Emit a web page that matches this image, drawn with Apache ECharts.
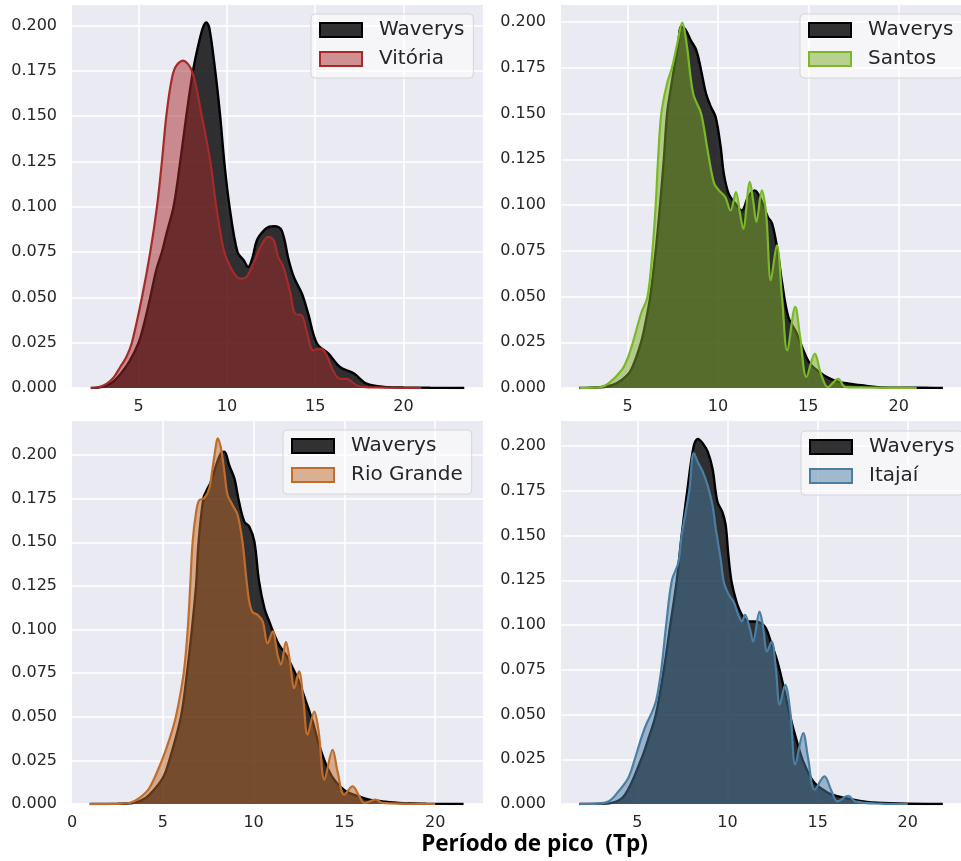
<!DOCTYPE html>
<html>
<head>
<meta charset="utf-8">
<script src="https://cdn.jsdelivr.net/npm/echarts@6/dist/echarts.min.js"></script>
<style>
html,body{margin:0;padding:0;background:#fff;}
#chart{width:961px;height:861px;}
</style>
</head>
<body>
<div id="chart"></div>
<script>
// ---------------- DATA ----------------
const seriesNames = ['Vitória', 'Santos', 'Rio Grande', 'Itajaí'];
const refName = 'Waverys';
const xLabelText = 'Período de pico  (Tp)';

// Panel 1: Waverys vs Vitória
const wav1X = [2.29, 3.0, 3.5, 4.0, 4.5, 5.0, 5.3, 5.66, 6.0, 6.32, 6.6, 6.98, 7.36, 7.7, 8.08, 8.4, 8.65, 8.83, 9.0, 9.34, 9.62, 9.85, 10.15, 10.6, 10.95, 11.2, 11.45, 11.7, 12.1, 12.4, 12.7, 13.1, 13.5, 13.8, 14.25, 14.6, 15.1, 15.75, 16.4, 17.2, 17.9, 18.9, 20.0, 21.5, 23.44];
const wav1Y = [0, 0.0008, 0.003, 0.008, 0.015, 0.025, 0.035, 0.05, 0.065, 0.075, 0.086, 0.1, 0.125, 0.15, 0.175, 0.19, 0.199, 0.2017, 0.199, 0.175, 0.15, 0.125, 0.1, 0.075, 0.0705, 0.0668, 0.072, 0.0816, 0.087, 0.089, 0.0893, 0.087, 0.0705, 0.061, 0.052, 0.041, 0.0245, 0.019, 0.0116, 0.008, 0.0024, 0.0006, 0.0003, 0.0001, 0];
const vitX = [2.3, 2.8, 3.2, 3.6, 3.96, 4.3, 4.62, 5.19, 5.66, 6.04, 6.32, 6.57, 6.83, 7.08, 7.5, 8.02, 8.58, 9.06, 9.4, 9.85, 10.2, 10.5, 10.75, 11.1, 11.5, 11.9, 12.35, 12.65, 12.9, 13.2, 13.6, 13.85, 14.25, 14.5, 14.9, 15.3, 15.6, 16.0, 16.4, 16.8, 17.2, 17.55, 18.5, 20.0, 21.0];
const vitY = [0, 0.0006, 0.0024, 0.006, 0.0116, 0.017, 0.025, 0.05, 0.075, 0.1, 0.125, 0.15, 0.168, 0.177, 0.1807, 0.175, 0.15, 0.125, 0.1, 0.075, 0.0668, 0.062, 0.0604, 0.0613, 0.0687, 0.078, 0.0834, 0.0816, 0.0724, 0.0668, 0.052, 0.041, 0.040, 0.032, 0.0208, 0.0217, 0.019, 0.0098, 0.005, 0.005, 0.0024, 0.0008, 0.0003, 0.0001, 0];

// Panel 2: Waverys vs Santos
const wav2X = [2.33, 3.5, 4.14, 4.7, 5.2, 5.75, 6.0, 6.26, 6.56, 6.8, 7.01, 7.19, 7.4, 7.58, 7.8, 7.97, 8.2, 8.5, 8.8, 9.07, 9.34, 9.61, 9.88, 10.15, 10.33, 10.6, 10.96, 11.32, 11.68, 12.04, 12.4, 12.76, 13.0, 13.3, 13.56, 13.9, 14.37, 14.73, 15.1, 15.6, 16.2, 16.7, 17.25, 17.96, 18.86, 20.0, 21.5, 22.45];
const wav2Y = [0, 0.0004, 0.0015, 0.0045, 0.01, 0.025, 0.036, 0.05, 0.075, 0.1, 0.125, 0.15, 0.164, 0.175, 0.188, 0.1975, 0.196, 0.19, 0.1847, 0.1737, 0.161, 0.1537, 0.148, 0.132, 0.117, 0.106, 0.1008, 0.097, 0.1045, 0.108, 0.1026, 0.0935, 0.0899, 0.0753, 0.057, 0.0388, 0.0297, 0.0206, 0.0133, 0.0088, 0.0051, 0.0033, 0.0024, 0.0015, 0.0005, 0.0002, 0.0001, 0];
const sanX = [2.35, 3.42, 4.0, 4.67, 5.0, 5.3, 5.75, 6.11, 6.38, 6.56, 6.69, 6.87, 7.19, 7.46, 7.75, 8.03, 8.27, 8.63, 9.07, 9.43, 9.79, 10.06, 10.4, 10.7, 11.0, 11.23, 11.4, 11.77, 11.95, 12.13, 12.43, 12.67, 12.93, 13.26, 13.56, 13.83, 14.28, 14.55, 14.9, 15.36, 15.7, 16.08, 16.65, 17.06, 18.0, 19.5, 21.0];
const sanY = [0, 0.0003, 0.003, 0.0097, 0.016, 0.025, 0.0407, 0.05, 0.075, 0.1, 0.125, 0.15, 0.1665, 0.175, 0.188, 0.1997, 0.188, 0.161, 0.150, 0.130, 0.1118, 0.108, 0.1045, 0.097, 0.107, 0.095, 0.087, 0.1127, 0.1026, 0.0908, 0.108, 0.095, 0.0589, 0.078, 0.048, 0.0206, 0.0443, 0.0279, 0.006, 0.0188, 0.0078, 0.0005, 0.005, 0.0005, 0.0003, 0.0001, 0];

// Panel 3: Waverys vs Rio Grande
const wav3X = [0.975, 2.5, 3.34, 3.8, 4.26, 5.0, 5.36, 6.0, 6.33, 6.6, 6.83, 6.97, 7.23, 7.38, 7.65, 7.93, 8.2, 8.39, 8.66, 8.94, 9.2, 9.49, 9.76, 10.04, 10.3, 10.6, 10.86, 11.14, 11.4, 11.78, 12.15, 12.5, 12.88, 13.25, 13.6, 14.07, 14.5, 15.08, 15.8, 16.37, 17.1, 18.0, 19.5, 21.56];
const wav3Y = [0, 0.0001, 0.0006, 0.002, 0.0053, 0.0149, 0.025, 0.05, 0.075, 0.1, 0.125, 0.15, 0.175, 0.179, 0.1847, 0.194, 0.201, 0.2019, 0.194, 0.1866, 0.173, 0.1618, 0.159, 0.1504, 0.1275, 0.112, 0.1046, 0.097, 0.0912, 0.0855, 0.078, 0.070, 0.0588, 0.0473, 0.034, 0.0206, 0.013, 0.0073, 0.0044, 0.0025, 0.0015, 0.0006, 0.0002, 0];
const rioX = [0.975, 2.5, 3.16, 3.7, 4.26, 4.95, 5.36, 5.72, 6.15, 6.37, 6.51, 6.64, 6.83, 7.0, 7.28, 7.56, 7.74, 7.93, 8.02, 8.2, 8.39, 8.57, 8.84, 9.12, 9.39, 9.58, 9.76, 9.94, 10.22, 10.5, 10.77, 11.05, 11.32, 11.5, 11.78, 12.0, 12.24, 12.5, 12.73, 12.97, 13.34, 13.58, 13.9, 14.35, 14.62, 14.99, 15.45, 15.82, 16.1, 16.7, 17.1, 18.5, 20.0];
const rioY = [0, 0.0001, 0.0006, 0.0034, 0.0092, 0.025, 0.037, 0.05, 0.075, 0.1, 0.125, 0.15, 0.167, 0.174, 0.1752, 0.181, 0.1924, 0.2057, 0.2095, 0.204, 0.1905, 0.177, 0.1714, 0.1656, 0.150, 0.131, 0.116, 0.110, 0.1084, 0.1046, 0.092, 0.0989, 0.0855, 0.0798, 0.093, 0.0817, 0.0664, 0.076, 0.0607, 0.0397, 0.053, 0.0416, 0.0139, 0.031, 0.0187, 0.0053, 0.0101, 0.0044, 0.0006, 0.0025, 0.0006, 0.0002, 0];

// Panel 4: Waverys vs Itajaí
const wav4X = [1.78, 3.0, 3.6, 4.32, 5.22, 5.6, 6.03, 6.47, 6.83, 7.19, 7.46, 7.77, 8.13, 8.36, 8.63, 8.9, 9.17, 9.44, 9.71, 9.9, 10.05, 10.23, 10.5, 10.8, 11.15, 11.5, 11.87, 12.14, 12.4, 12.77, 13.13, 13.5, 13.85, 14.2, 14.75, 15.3, 15.8, 16.55, 17.27, 18.0, 19.5, 21.94];
const wav4Y = [0, 0.0002, 0.0006, 0.0052, 0.025, 0.036, 0.05, 0.075, 0.1, 0.125, 0.15, 0.175, 0.2, 0.204, 0.2015, 0.197, 0.1875, 0.169, 0.1633, 0.156, 0.139, 0.124, 0.113, 0.1057, 0.102, 0.102, 0.101, 0.098, 0.0908, 0.0796, 0.0647, 0.048, 0.035, 0.0238, 0.0127, 0.008, 0.0052, 0.0033, 0.0019, 0.0009, 0.0003, 0];
const itaX = [1.78, 2.8, 3.42, 3.96, 4.5, 4.86, 5.22, 5.49, 5.76, 6.05, 6.33, 6.6, 6.92, 7.28, 7.46, 7.88, 8.13, 8.36, 8.63, 8.9, 9.17, 9.35, 9.62, 9.8, 10.07, 10.34, 10.6, 10.8, 10.97, 11.24, 11.42, 11.78, 11.96, 12.2, 12.45, 12.68, 12.9, 13.2, 13.5, 13.76, 14.2, 14.47, 14.84, 15.38, 15.74, 16.1, 16.7, 17.08, 18.5, 20.0];
const itaY = [0, 0.0002, 0.0015, 0.0071, 0.0145, 0.025, 0.0368, 0.0443, 0.05, 0.058, 0.075, 0.1, 0.125, 0.135, 0.15, 0.175, 0.196, 0.191, 0.1857, 0.178, 0.167, 0.154, 0.137, 0.124, 0.117, 0.113, 0.1057, 0.102, 0.1057, 0.098, 0.0908, 0.1075, 0.100, 0.0852, 0.0908, 0.076, 0.0554, 0.0666, 0.050, 0.022, 0.0396, 0.0257, 0.008, 0.0154, 0.008, 0.0015, 0.0046, 0.0015, 0.0002, 0];

// ---------------- LAYOUT / STYLE ----------------
const panels = [
  { refX: wav1X, refY: wav1Y, locX: vitX, locY: vitY, name: seriesNames[0],
    color: '#a52a2a', fill: 'rgba(165,42,42,0.5)',
    grid: { left: 72, top: 5, width: 411, height: 383 }, xMin: 1.23, xMax: 24.5, yMax: 0.2114,
    legend: { left: 311, top: 14 } },
  { refX: wav2X, refY: wav2Y, locX: sanX, locY: sanY, name: seriesNames[1],
    color: '#7ab827', fill: 'rgba(125,170,40,0.5)',
    grid: { left: 561, top: 5, width: 411, height: 383 }, xMin: 1.32, xMax: 23.45, yMax: 0.2093,
    legend: { left: 800, top: 14 } },
  { refX: wav3X, refY: wav3Y, locX: rioX, locY: rioY, name: seriesNames[2],
    color: '#c06d2c', fill: 'rgba(189,105,43,0.5)',
    grid: { left: 72, top: 421, width: 411, height: 383 }, xMin: 0, xMax: 22.63, yMax: 0.2195,
    legend: { left: 283, top: 430 } },
  { refX: wav4X, refY: wav4Y, locX: itaX, locY: itaY, name: seriesNames[3],
    color: '#4a7ea3', fill: 'rgba(75,123,161,0.5)',
    grid: { left: 561, top: 421, width: 411, height: 383 }, xMin: 0.77, xMax: 22.95, yMax: 0.214,
    legend: { left: 801, top: 431 } }
];

const FONT = 'DejaVu Sans';
const TXT = '#262626';

function zip(xs, ys) { return xs.map((x, i) => [x, ys[i]]); }
function xFmt(v) {
  const r = Math.round(v / 5) * 5;
  return Math.abs(v - r) < 1e-6 ? String(r) : '';
}

const grids = [], xAxes = [], yAxes = [], series = [], legends = [];
panels.forEach((p, i) => {
  grids.push(Object.assign({ show: true, backgroundColor: '#EAEAF2', borderWidth: 0, containLabel: false }, p.grid));
  xAxes.push({
    gridIndex: i, type: 'value', min: p.xMin, max: p.xMax, splitNumber: 5, minInterval: 5, maxInterval: 5,
    axisLine: { show: false }, axisTick: { show: false },
    splitLine: { show: true, showMinLine: false, showMaxLine: false, lineStyle: { color: '#ffffff', width: 1.5 } },
    axisLabel: { fontSize: 16, fontFamily: FONT, color: TXT, margin: 11, showMinLabel: p.xMin === 0, showMaxLabel: false, formatter: xFmt }
  });
  yAxes.push({
    gridIndex: i, type: 'value', min: 0, max: p.yMax, interval: 0.025,
    axisLine: { show: false }, axisTick: { show: false },
    splitLine: { show: true, showMinLine: true, showMaxLine: false, lineStyle: { color: '#ffffff', width: 1.5 } },
    axisLabel: { fontSize: 16, fontFamily: FONT, color: TXT, margin: 15, showMaxLabel: false,
      formatter: v => (Math.abs(v / 0.025 - Math.round(v / 0.025)) < 1e-6 ? v.toFixed(3) : '') }
  });
  series.push({
    name: refName, type: 'line', xAxisIndex: i, yAxisIndex: i, data: zip(p.refX, p.refY),
    smooth: 0.35, showSymbol: false, symbol: 'none', silent: true,
    lineStyle: { color: '#000000', width: 2.4 },
    itemStyle: { color: '#000000' },
    areaStyle: { color: 'rgba(0,0,0,0.8)', opacity: 1 },
    z: 2
  });
  series.push({
    name: p.name, type: 'line', xAxisIndex: i, yAxisIndex: i, data: zip(p.locX, p.locY),
    smooth: 0.35, showSymbol: false, symbol: 'none', silent: true,
    lineStyle: { color: p.color, width: 2.2 },
    itemStyle: { color: p.color },
    areaStyle: { color: p.fill, opacity: 1 },
    z: 3
  });
  legends.push({
    orient: 'vertical', left: p.legend.left, top: p.legend.top,
    icon: 'rect', itemWidth: 42, itemHeight: 14, itemGap: 9,
    padding: [6, 9, 9, 8],
    backgroundColor: 'rgba(255,255,255,0.55)', borderColor: '#d4d4da', borderWidth: 1, borderRadius: 4,
    selectedMode: false,
    textStyle: { fontSize: 20, fontFamily: FONT, color: TXT, padding: [0, 0, 0, 12] },
    data: [
      { name: refName, itemStyle: { color: 'rgba(0,0,0,0.8)', borderColor: '#000000', borderWidth: 2 } },
      { name: p.name, itemStyle: { color: p.fill, borderColor: p.color, borderWidth: 2 } }
    ]
  });
});

const chart = echarts.init(document.getElementById('chart'), null, { renderer: 'canvas', width: 961, height: 861 });
chart.setOption({
  backgroundColor: '#ffffff',
  animation: false,
  grid: grids,
  xAxis: xAxes,
  yAxis: yAxes,
  legend: legends,
  series: series,
  graphic: [{
    type: 'text', x: 534.5, y: 845, silent: true,
    style: { text: xLabelText, textAlign: 'center', textVerticalAlign: 'middle',
      font: 'bold 22.5px "Open Sans"', fill: '#000000' }
  }]
});
</script>
</body>
</html>
